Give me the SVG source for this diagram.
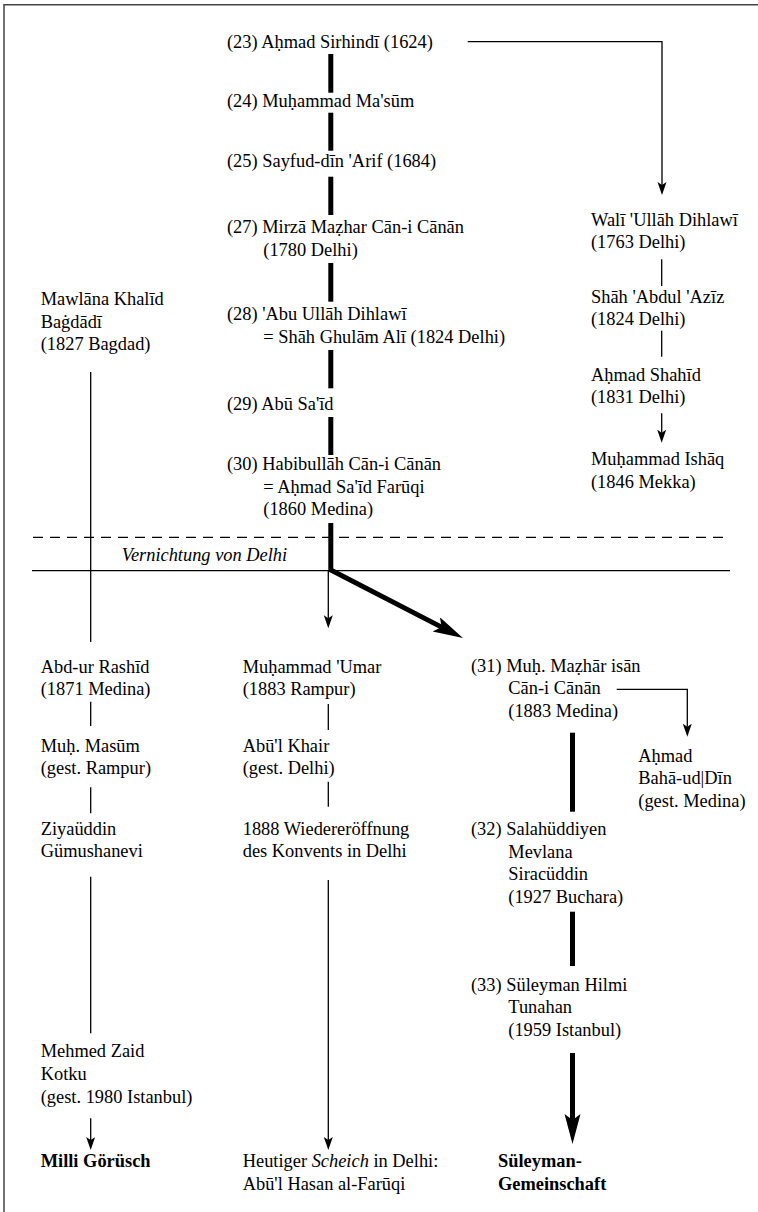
<svg xmlns="http://www.w3.org/2000/svg" width="758" height="1212" viewBox="0 0 758 1212">
<style>
text{font-family:"Liberation Serif","Times New Roman",serif;font-size:18.4px;fill:#000}
.b{font-weight:bold}
.i{font-style:italic}
.thin{stroke:#000;stroke-width:1.3;fill:none}
.thick{stroke:#000;stroke-width:5;fill:none;stroke-linejoin:miter}
.frame{stroke:#444;stroke-width:1.5;fill:none}
</style>
<defs>
<marker id="ah" markerUnits="userSpaceOnUse" markerWidth="14" markerHeight="10" refX="3" refY="4.5" orient="auto"><path d="M0,0 L13,4.5 L0,9 L3,4.5 z" fill="#000"/></marker>
<marker id="AH" markerUnits="userSpaceOnUse" markerWidth="31" markerHeight="17" refX="6" refY="8" orient="auto"><path d="M0,0 L30,8 L0,16 L6,8 z" fill="#000"/></marker>
</defs>
<path class="frame" d="M4,1212 V4.7 H758"/>
<g id="connectors">
<path class="thin" d="M467.7,41.7 H662 V185" marker-end="url(#ah)"/>
<line class="thick" x1="330.8" y1="54" x2="330.8" y2="92.7"/>
<line class="thick" x1="330.8" y1="112.7" x2="330.8" y2="150.7"/>
<line class="thick" x1="330.8" y1="176.7" x2="330.8" y2="215"/>
<line class="thick" x1="330.8" y1="263" x2="330.8" y2="301.7"/>
<line class="thick" x1="330.8" y1="350" x2="330.8" y2="388.3"/>
<line class="thick" x1="330.8" y1="417" x2="330.8" y2="455"/>
<path class="thick" d="M330.8,523 V570 L441.6,627.1" marker-end="url(#AH)"/>
<line class="thin" x1="661.7" y1="259.3" x2="661.7" y2="286"/>
<line class="thin" x1="661.7" y1="330.7" x2="661.7" y2="356.7"/>
<line class="thin" x1="661.7" y1="413.3" x2="661.7" y2="432.7" marker-end="url(#ah)"/>
<line class="thin" x1="33" y1="537.3" x2="730" y2="537.3" stroke-dasharray="10 7"/>
<line class="thin" x1="32" y1="570.7" x2="730" y2="570.7"/>
<line class="thin" x1="90.7" y1="372" x2="90.7" y2="642"/>
<line class="thin" x1="90.7" y1="701.7" x2="90.7" y2="726"/>
<line class="thin" x1="90.7" y1="787.3" x2="90.7" y2="813.3"/>
<line class="thin" x1="90.7" y1="876.7" x2="90.7" y2="1033.3"/>
<line class="thin" x1="90.7" y1="1118.3" x2="90.7" y2="1140" marker-end="url(#ah)"/>
<line class="thin" x1="328.3" y1="570.7" x2="328.3" y2="618.3" marker-end="url(#ah)"/>
<line class="thin" x1="328.3" y1="704" x2="328.3" y2="730"/>
<line class="thin" x1="328.3" y1="781.7" x2="328.3" y2="806.7"/>
<line class="thin" x1="328.3" y1="880" x2="328.3" y2="1140" marker-end="url(#ah)"/>
<path class="thin" d="M616.7,689.3 H687.3 V726.7" marker-end="url(#ah)"/>
<line class="thick" x1="572.5" y1="732.7" x2="572.5" y2="811.7"/>
<line class="thick" x1="572.5" y1="911.7" x2="572.5" y2="966"/>
<line class="thick" x1="572.5" y1="1053" x2="572.5" y2="1120" marker-end="url(#AH)"/>
</g>
<g id="n23"><text x="227" y="47.5">(23) Aḥmad Sirhindī (1624)</text></g>
<g id="n24"><text x="227" y="107.3">(24) Muḥammad Ma'sūm</text></g>
<g id="n25"><text x="227" y="167.3">(25) Sayfud-dīn 'Arif (1684)</text></g>
<g id="n27"><text x="227" y="233.3">(27) Mirzā Maẓhar Cān-i Cānān</text><text x="263.3" y="256">(1780 Delhi)</text></g>
<g id="n28"><text x="227" y="320">(28) 'Abu Ullāh Dihlawī</text><text x="263.3" y="342.7">= Shāh Ghulām Alī (1824 Delhi)</text></g>
<g id="n29"><text x="227" y="410">(29) Abū Sa'īd</text></g>
<g id="n30"><text x="227" y="470">(30) Habibullāh Cān-i Cānān</text><text x="263.3" y="492.5">= Aḥmad Sa'īd Farūqi</text><text x="263.3" y="515">(1860 Medina)</text></g>
<g id="khalid"><text x="40.7" y="305">Mawlāna Khalīd</text><text x="40.7" y="327.5">Baġdādī</text><text x="40.7" y="350">(1827 Bagdad)</text></g>
<g id="wali"><text x="591" y="225.7">Walī 'Ullāh Dihlawī</text><text x="591" y="248.3">(1763 Delhi)</text></g>
<g id="abdulaziz"><text x="591" y="302.7">Shāh 'Abdul 'Azīz</text><text x="591" y="325.3">(1824 Delhi)</text></g>
<g id="shahid"><text x="591" y="380.7">Aḥmad Shahīd</text><text x="591" y="403.3">(1831 Delhi)</text></g>
<g id="ishaq"><text x="591" y="465">Muḥammad Ishāq</text><text x="591" y="487.5">(1846 Mekka)</text></g>
<g id="delhi"><text class="i" x="121.7" y="560.7">Vernichtung von Delhi</text></g>
<g id="rashid"><text x="40.7" y="672.7">Abd-ur Rashīd</text><text x="40.7" y="695.3">(1871 Medina)</text></g>
<g id="masum"><text x="40.7" y="751.7">Muḥ. Masūm</text><text x="40.7" y="774">(gest. Rampur)</text></g>
<g id="ziya"><text x="40.7" y="835">Ziyaüddin</text><text x="40.7" y="857.3">Gümushanevi</text></g>
<g id="kotku"><text x="40.7" y="1057.3">Mehmed Zaid</text><text x="40.7" y="1080">Kotku</text><text x="40.7" y="1102.5">(gest. 1980 Istanbul)</text></g>
<g id="milli"><text class="b" x="40.7" y="1167">Milli Görüsch</text></g>
<g id="umar"><text x="242.7" y="672.7">Muḥammad 'Umar</text><text x="242.7" y="695.3">(1883 Rampur)</text></g>
<g id="khair"><text x="242.7" y="751.7">Abū'l Khair</text><text x="242.7" y="774">(gest. Delhi)</text></g>
<g id="reopen"><text x="242.7" y="835">1888 Wiedereröffnung</text><text x="242.7" y="857.3">des Konvents in Delhi</text></g>
<g id="scheich"><text x="242.7" y="1167">Heutiger <tspan class="i">Scheich</tspan> in Delhi:</text><text x="242.7" y="1189.5">Abū'l Hasan al-Farūqi</text></g>
<g id="n31"><text x="471" y="671.7">(31) Muḥ. Maẓhār isān</text><text x="508.3" y="694.2">Cān-i Cānān</text><text x="508.3" y="716.7">(1883 Medina)</text></g>
<g id="baha"><text x="638.3" y="761.7">Aḥmad</text><text x="638.3" y="784.2">Bahā-ud|Dīn</text><text x="638.3" y="806.7">(gest. Medina)</text></g>
<g id="n32"><text x="471" y="835">(32) Salahüddiyen</text><text x="508.3" y="857.5">Mevlana</text><text x="508.3" y="880">Siracüddin</text><text x="508.3" y="902.5">(1927 Buchara)</text></g>
<g id="n33"><text x="471" y="990.5">(33) Süleyman Hilmi</text><text x="508.3" y="1013">Tunahan</text><text x="508.3" y="1035.5">(1959 Istanbul)</text></g>
<g id="sul"><text class="b" x="498" y="1167">Süleyman-</text><text class="b" x="498" y="1189.5">Gemeinschaft</text></g>
</svg>
